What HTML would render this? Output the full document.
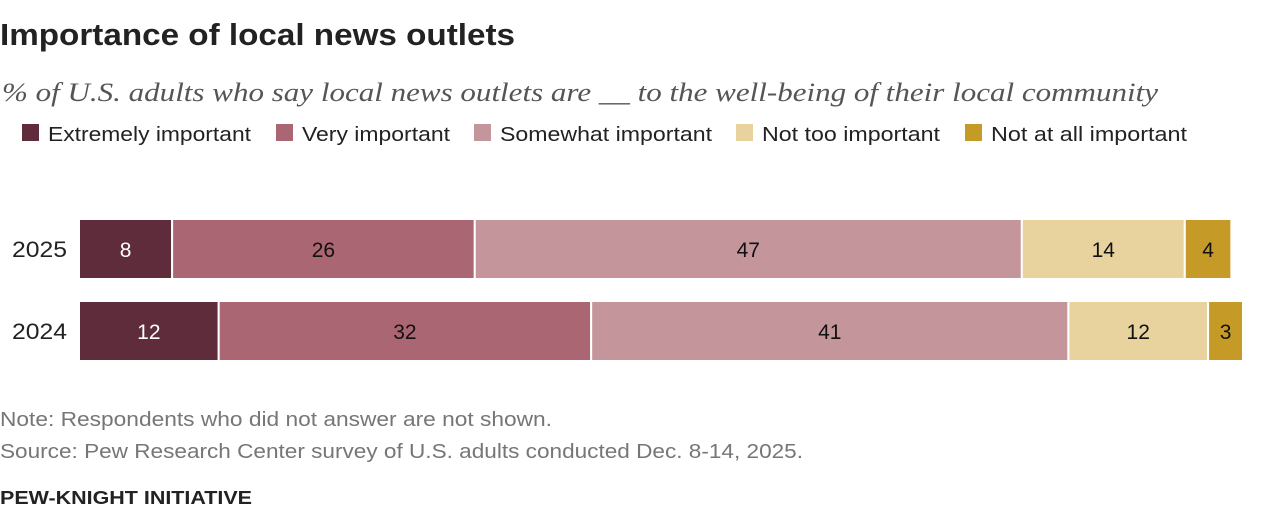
<!DOCTYPE html>
<html><head><meta charset="utf-8"><style>
html,body{margin:0;padding:0;background:#fff;width:1280px;height:522px;overflow:hidden}
svg text{font-family:"Liberation Sans",sans-serif}
</style></head><body>
<svg id="chart" width="1280" height="522" xmlns="http://www.w3.org/2000/svg">
<text x="0" y="45" font-size="31" font-weight="bold" fill="#222" textLength="515" lengthAdjust="spacingAndGlyphs">Importance of local news outlets</text>
<text x="2" y="101" font-size="26" font-style="italic" fill="#555" style="font-family:'Liberation Serif',serif" textLength="1156" lengthAdjust="spacingAndGlyphs">% of U.S. adults who say local news outlets are __ to the well-being of their local community</text>
<g id="legend"></g>
<g id="bars"></g>
<text x="0" y="426" font-size="20" fill="#767676" textLength="552" lengthAdjust="spacingAndGlyphs">Note: Respondents who did not answer are not shown.</text>
<text x="0" y="458" font-size="20" fill="#767676" textLength="803" lengthAdjust="spacingAndGlyphs">Source: Pew Research Center survey of U.S. adults conducted Dec. 8-14, 2025.</text>
<text x="0" y="504" font-size="18" font-weight="bold" fill="#222" textLength="252" lengthAdjust="spacingAndGlyphs">PEW-KNIGHT INITIATIVE</text>
</svg>
<script>
const categories = ["2025", "2024"];
const seriesNames = ["Extremely important", "Very important", "Somewhat important", "Not too important", "Not at all important"];
const extremely = [8, 12];
const very = [26, 32];
const somewhat = [47, 41];
const notToo = [14, 12];
const notAtAll = [4, 3];

const colors = ["#5e2c3a", "#ab6673", "#c5959c", "#e8d39e", "#c59a27"];
const textColors = ["#fff", "#111", "#111", "#111", "#111"];
const NS = "http://www.w3.org/2000/svg";
const x0 = 79, pxPerUnit = 11.64;
const xScale = v => v * pxPerUnit;
const yTop = i => 219 + i * 82;
const barH = 60;

const legend = document.getElementById('legend');
const legendX = [22, 276, 474, 736, 965];
const legendW = [203, 148, 212, 178, 196];
seriesNames.forEach((n, k) => {
  const r = document.createElementNS(NS, 'rect');
  
  
  r.setAttribute('x', legendX[k]); r.setAttribute('y', 124);
  r.setAttribute('width', 17); r.setAttribute('height', 17);
  r.setAttribute('fill', colors[k]);
  legend.appendChild(r);
  const t = document.createElementNS(NS, 'text');
  
  
  t.setAttribute('x', legendX[k] + 26); t.setAttribute('y', 141);
  t.setAttribute('font-size', 20); t.setAttribute('fill', '#222');
  t.setAttribute('textLength', legendW[k]); t.setAttribute('lengthAdjust', 'spacingAndGlyphs');
  t.textContent = n;
  legend.appendChild(t);
});

const bars = document.getElementById('bars');
const series = [extremely, very, somewhat, notToo, notAtAll];
categories.forEach((c, i) => {
  const yl = document.createElementNS(NS, 'text');
  
  
  yl.setAttribute('x', 12); yl.setAttribute('y', yTop(i) + barH / 2 + 8);
  yl.setAttribute('font-size', 22); yl.setAttribute('fill', '#222');
  yl.setAttribute('textLength', 55); yl.setAttribute('lengthAdjust', 'spacingAndGlyphs');
  yl.textContent = c;
  bars.appendChild(yl);
  let acc = 0;
  series.forEach((s, k) => {
    const v = s[i];
    const x = x0 + xScale(acc), w = xScale(v);
    const r = document.createElementNS(NS, 'rect');
    
    
    r.setAttribute('x', x); r.setAttribute('y', yTop(i));
    r.setAttribute('width', w); r.setAttribute('height', barH);
    r.setAttribute('fill', colors[k]); r.setAttribute('stroke', '#fff'); r.setAttribute('stroke-width', 2);
    bars.appendChild(r);
    const t = document.createElementNS(NS, 'text');
    
    
    t.setAttribute('x', x + w / 2); t.setAttribute('y', yTop(i) + barH / 2 + 8);
    t.setAttribute('text-anchor', 'middle'); t.setAttribute('font-size', 21);
    t.setAttribute('fill', textColors[k]);
    t.textContent = v;
    bars.appendChild(t);
    acc += v;
  });
});
</script>
</body></html>
